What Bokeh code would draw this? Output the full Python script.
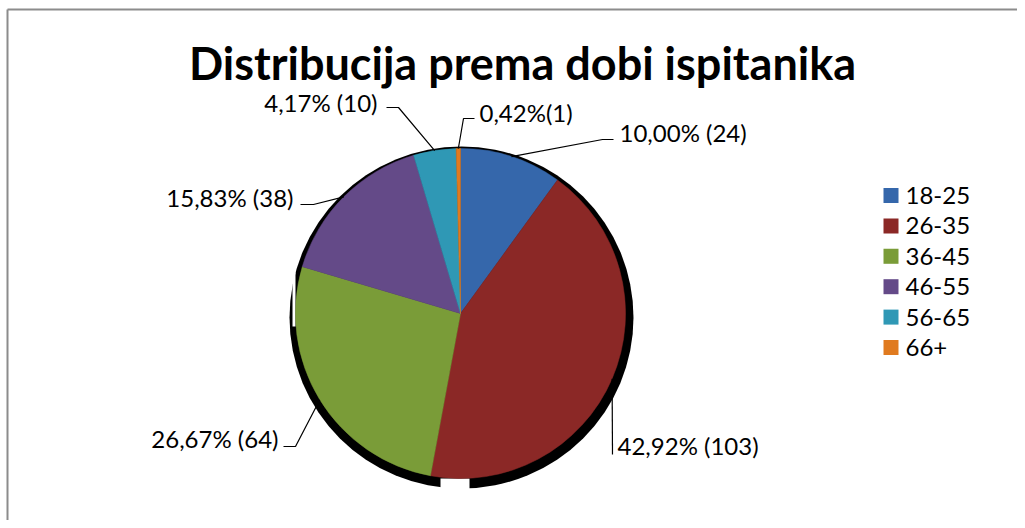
import math
from bokeh.plotting import figure
from bokeh.models import Range1d
from bokeh.core.properties import value
from bokeh.embed import file_html
from bokeh.resources import INLINE

# ---------------- data ----------------
title_text = "Distribucija prema dobi ispitanika"
categories = ["18-25", "26-35", "36-45", "46-55", "56-65", "66+"]
counts = [24, 103, 64, 38, 10, 1]
slice_labels = ["10,00% (24)", "42,92% (103)", "26,67% (64)", "15,83% (38)", "4,17% (10)", "0,42%(1)"]
colors = ["#3567AB", "#8B2826", "#7A9C38", "#644A88", "#2F98B5", "#E07A1F"]

# ---------------- layout (image pixels) ----------------
W, H = 1017, 520
FONT = "Lato"
LABEL_SIZE = "24px"


def Y(sy):
    return H - sy


CX, CY, R = 460, 313, 165
SHADOW = (461, 317, 344, 342)
# per label: elbow point, end point, text anchor, align
label_layout = [
    ((602, 139), (613, 139), (619, 132), "left"),
    ((612, 454), (612, 454), (617, 445), "left"),
    ((295, 446), (283, 446), (278, 438), "right"),
    ((313, 204), (300, 204), (293, 197), "right"),
    ((398, 107), (386, 107), (377, 102), "right"),
    ((463, 118), (474, 118), (479, 112), "left"),
]
LEG_X, LEG_Y0, LEG_DY, LEG_SQ = 890.5, 195, 30.4, 15

p = figure(width=W, height=H, output_backend="svg", toolbar_location=None,
           x_range=Range1d(0, W), y_range=Range1d(0, H), min_border=0)
p.axis.visible = False
p.grid.visible = False
p.outline_line_color = None
p.background_fill_color = "white"
p.border_fill_color = "white"

# frame lines (top and left)
p.line([7, W], [Y(9), Y(9)], line_color="#8c8c8c", line_width=2)
p.line([7, 7], [Y(9), 0], line_color="#8c8c8c", line_width=2)

# title
p.text(x=[522], y=[Y(62)], text=[title_text], text_font=value(FONT),
       text_font_style="bold", text_font_size="45px", text_align="center",
       text_baseline="middle", text_color="black")

# shadow
p.ellipse(x=[SHADOW[0]], y=[Y(SHADOW[1])], width=SHADOW[2], height=SHADOW[3],
          fill_color="black", line_color=None)
# small white gaps in the shadow (as in the reference)
p.quad(left=[440, 292], right=[469, 295], top=[Y(478), Y(272)], bottom=[Y(489), Y(326)],
       fill_color="white", line_color=None)

# pie
total = sum(counts)
starts, ends, mids = [], [], []
cum = 0
for c in counts:
    a0 = math.pi / 2 - 2 * math.pi * cum / total
    cum += c
    a1 = math.pi / 2 - 2 * math.pi * cum / total
    starts.append(a1)
    ends.append(a0)
    mids.append((a0 + a1) / 2)

p.wedge(x=CX, y=Y(CY), radius=R, start_angle=starts, end_angle=ends,
        direction="anticlock", fill_color=colors, line_color=colors, line_width=0.5)

# leader lines and labels
xs, ys = [], []
for m, (elb, end, txt, al) in zip(mids, label_layout):
    ex = CX + R * math.cos(m)
    ey = Y(CY) + R * math.sin(m)
    xs.append([ex, elb[0], end[0]])
    ys.append([ey, Y(elb[1]), Y(end[1])])
p.multi_line(xs=xs, ys=ys, line_color="black", line_width=1.2)

for lab, (elb, end, txt, al) in zip(slice_labels, label_layout):
    p.text(x=[txt[0]], y=[Y(txt[1])], text=[lab], text_font=value(FONT),
           text_font_size=LABEL_SIZE, text_align=al, text_baseline="middle",
           text_color="black")

# legend
ly = [Y(LEG_Y0 + i * LEG_DY) for i in range(len(categories))]
p.rect(x=[LEG_X] * len(categories), y=ly, width=LEG_SQ, height=LEG_SQ,
       fill_color=colors, line_color=None)
p.text(x=[LEG_X + 14.5] * len(categories), y=ly, text=categories,
       text_font=value(FONT), text_font_size=LABEL_SIZE, text_align="left",
       text_baseline="middle", text_color="black")

open("out.html", "w").write(file_html(p, INLINE))
